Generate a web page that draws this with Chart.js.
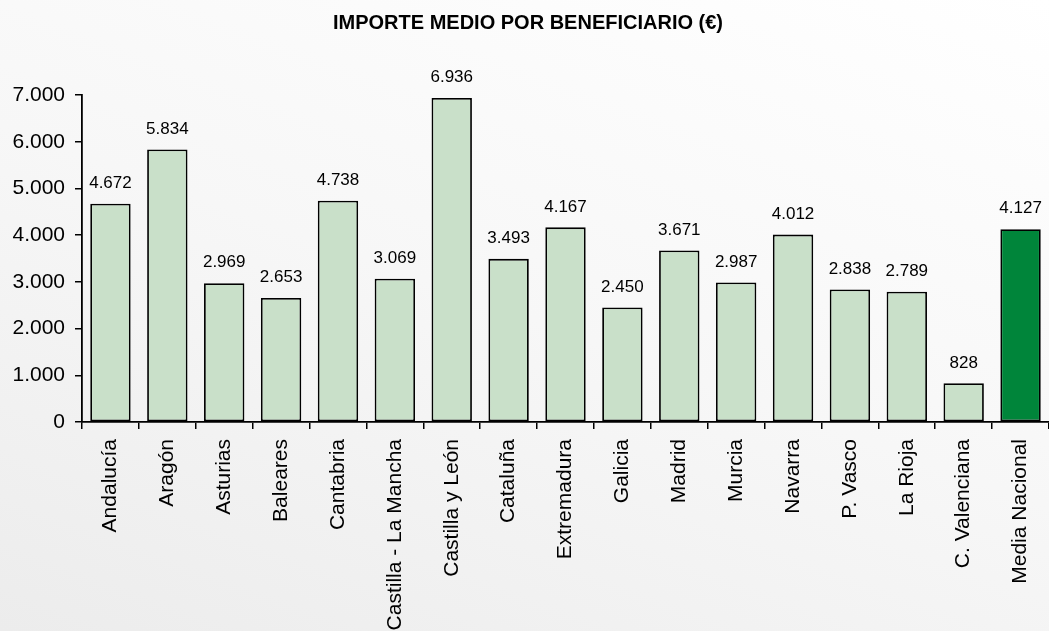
<!DOCTYPE html>
<html>
<head>
<meta charset="utf-8">
<script src="https://cdn.jsdelivr.net/npm/chart.js@4"></script>
<style>
  html, body { margin: 0; padding: 0; }
  body {
    width: 1049px; height: 631px; overflow: hidden;
    background: linear-gradient(200deg, #ffffff 0%, #f7f7f7 50%, #ececec 100%);
  }
  #wrap { position: relative; width: 1049px; height: 631px; }
</style>
</head>
<body>
<div id="wrap"><canvas id="chart"></canvas></div>
<script>
// Datos
const regiones = ['Andalucía', 'Aragón', 'Asturias', 'Baleares', 'Cantabria', 'Castilla - La Mancha',
    'Castilla y León', 'Cataluña', 'Extremadura', 'Galicia', 'Madrid', 'Murcia', 'Navarra',
    'P. Vasco', 'La Rioja', 'C. Valenciana', 'Media Nacional'];
const importes = [4672, 5834, 2969, 2653, 4738, 3069, 6936, 3493, 4167, 2450, 3671, 2987, 4012,
    2838, 2789, 828, 4127];
const yTicks = [0, 1000, 2000, 3000, 4000, 5000, 6000, 7000];
const titulo = 'IMPORTE MEDIO POR BENEFICIARIO (€)';

const FONT = '"Liberation Sans", Arial, sans-serif';

// Formato con punto de miles
function fmt(v) {
    return String(v).replace(/\B(?=(\d{3})+(?!\d))/g, '.');
}

// Colores: la media nacional en verde oscuro
const colores = regiones.map(r => r === 'Media Nacional' ? '#00853a' : '#c9e0c9');

// Etiquetas de valor encima de cada barra
const etiquetasPlugin = {
    id: 'etiquetas',
    afterDatasetsDraw(chart) {
        const ctx = chart.ctx;
        const meta = chart.getDatasetMeta(0);
        ctx.save();
        ctx.font = '17px ' + FONT;
        ctx.fillStyle = '#000';
        ctx.textAlign = 'center';
        ctx.textBaseline = 'bottom';
        meta.data.forEach((bar, i) => {
            ctx.fillText(fmt(importes[i]), bar.x, bar.y - 12);
        });
        ctx.restore();
    }
};

// Título dibujado a mano
const tituloPlugin = {
    id: 'titulo',
    afterDraw(chart) {
        const ctx = chart.ctx;
        ctx.save();
        ctx.font = 'bold 20px ' + FONT;
        ctx.fillStyle = '#000';
        ctx.textAlign = 'center';
        ctx.textBaseline = 'middle';
        ctx.fillText(titulo, 528, 23);
        ctx.restore();
    }
};

const canvas = document.getElementById('chart');
new Chart(canvas.getContext('2d'), {
    type: 'bar',
    data: {
        labels: regiones,
        datasets: [{
            data: importes,
            backgroundColor: colores,
            borderColor: '#000',
            borderWidth: 1.8,
            borderSkipped: false,
            categoryPercentage: 1,
            barPercentage: 0.71
        }]
    },
    options: {
        responsive: true,
        maintainAspectRatio: false,
        animation: false,
        layout: { padding: { top: 95, right: 0, left: 0, bottom: 0 } },
        plugins: {
            legend: { display: false },
            title: { display: false },
            tooltip: { enabled: false }
        },
        scales: {
            x: {
                offset: true,
                grid: { offset: true, drawOnChartArea: false, color: '#000', tickLength: 7, lineWidth: 1.5 },
                border: { color: '#000', width: 1.8 },
                ticks: {
                    color: '#000',
                    font: { family: FONT, size: 21 },
                    minRotation: 90,
                    maxRotation: 90,
                    autoSkip: false,
                    padding: 10
                },
                afterFit(scale) {
                    scale.height = 209;
                    scale.paddingLeft = 0;
                    scale.paddingRight = 0;
                }
            },
            y: {
                min: 0,
                max: 7000,
                afterBuildTicks(scale) { scale.ticks = yTicks.map(v => ({ value: v })); },
                grid: { drawOnChartArea: false, color: '#000', tickLength: 7, lineWidth: 1.5 },
                border: { color: '#000', width: 1.8 },
                ticks: {
                    color: '#000',
                    font: { family: FONT, size: 21 },
                    padding: 10,
                    callback: v => fmt(v)
                },
                afterFit(scale) { scale.width = 82; }
            }
        }
    },
    plugins: [etiquetasPlugin, tituloPlugin]
});
</script>
</body>
</html>
